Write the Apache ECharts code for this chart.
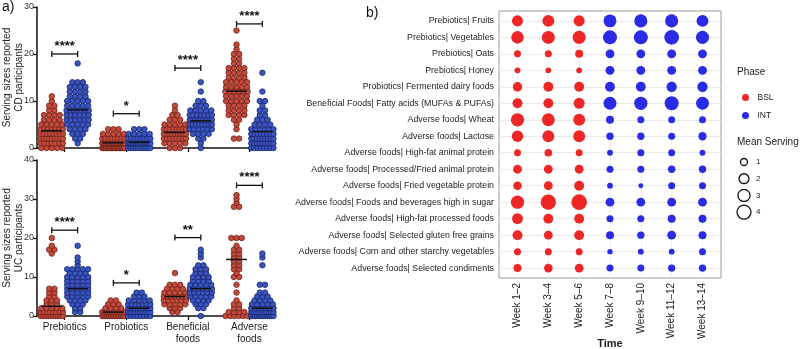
<!doctype html>
<html lang="en">
<head>
  <meta charset="UTF-8">
  <title>Serving sizes</title>
  <style>
    html, body { margin: 0; padding: 0; background: #fff; }
    #chart { width: 800px; height: 349px; }
  </style>
  <script src="https://cdn.jsdelivr.net/npm/echarts@6/dist/echarts.min.js"></script>
</head>
<body>
  <div id="chart"></div>
  <script>
    // ---- panel a: serving sizes per participant, [value, how many participants]
    var groups = ['Prebiotics', 'Probiotics', 'Beneficial\nfoods', 'Adverse\nfoods'];

    var cdPreBsl = [[0,5],[1,7],[2,9],[3,8],[4,7],[5,5],[6,4],[7,4],[8,2],[9,2],[10,1],[11,1]];
    var cdPreInt = [[1,1],[2,2],[3,3],[4,4],[5,5],[6,6],[7,6],[8,7],[9,5],[10,5],[11,4],[12,4],[13,4],[14,3],[18,1]];
    var cdProBsl = [[0,18],[1,16],[2,8],[3,5],[4,3]];
    var cdProInt = [[0,10],[1,14],[2,8],[3,5],[4,3]];
    var cdBenBsl = [[0,3],[1,5],[2,8],[3,9],[4,8],[5,5],[6,3],[7,2],[8,1],[9,1]];
    var cdBenInt = [[0,1],[1,1],[2,2],[3,4],[4,6],[5,8],[6,9],[7,7],[8,5],[9,3],[10,2],[12,1],[14,1]];
    var cdAdvBsl = [[2,2],[4,1],[5,1],[6,2],[7,4],[8,4],[9,4],[10,5],[11,5],[12,6],[13,5],[14,5],[15,4],[16,4],[17,4],[18,2],[19,2],[20,2],[21,1],[22,1],[25,1]];
    var cdAdvInt = [[0,8],[1,9],[2,9],[3,8],[4,6],[5,4],[6,3],[7,2],[8,2],[9,1],[10,2],[12,1],[16,1]];

    var ucPreBsl = [[0,10],[1,8],[2,5],[3,3],[4,3],[5,2],[6,2],[7,2],[16,1],[17,2],[18,1],[20,1]];
    var ucPreInt = [[1,2],[2,2],[3,3],[4,4],[5,5],[6,5],[7,5],[8,5],[9,5],[10,5],[11,4],[12,5],[13,1],[14,1],[15,1],[18,1]];
    var ucProBsl = [[0,14],[1,10],[2,4],[3,3],[4,2]];
    var ucProInt = [[0,8],[1,10],[2,10],[3,7],[4,5],[5,3],[6,2]];
    var ucBenBsl = [[1,2],[2,3],[3,5],[4,6],[5,7],[6,5],[7,4],[8,3],[11,1]];
    var ucBenInt = [[0,1],[2,2],[3,3],[4,4],[5,5],[6,6],[7,6],[8,5],[9,4],[10,4],[11,3],[12,3],[13,2],[15,1],[16,1],[17,1]];
    var ucAdvBsl = [[0,6],[1,4],[2,2],[3,2],[4,1],[6,1],[8,1],[10,2],[11,1],[12,2],[13,2],[14,2],[15,2],[16,2],[17,2],[18,1],[20,3],[28,2],[29,1],[30,1],[31,1]];
    var ucAdvInt = [[0,12],[1,10],[2,7],[3,5],[4,4],[5,3],[6,2],[8,2],[13,1],[15,1],[16,1]];

    // centre line of each column (bsl, int per group)
    var cdCenter = [3.7, 8.1, 1.1, 1.2, 3.3, 5.8, 12.1, 3.5];
    var ucCenter = [2.5, 7, 1, 2, 5, 7, 14.5, 2];
    // significance brackets
    var cdSigY = [20, 7.3, 17, 26.4];
    var cdSigTxt = ['****', '*', '****', '****'];
    var ucSigY = [22, 8.5, 20.1, 33.5];
    var ucSigTxt = ['****', '*', '**', '****'];

    // ---- panel b: mean serving per food and fortnight
    var weeks = ['Week 1\u20132', 'Week 3\u20134', 'Week 5\u20136', 'Week 7\u20138', 'Week 9\u201310', 'Week 11\u201312', 'Week 13\u201314'];
    var foods = [
      'Prebiotics| Fruits', 'Prebiotics| Vegetables', 'Prebiotics| Oats', 'Prebiotics| Honey',
      'Probiotics| Fermented dairy foods', 'Beneficial Foods| Fatty acids (MUFAs & PUFAs)',
      'Adverse foods| Wheat', 'Adverse foods| Lactose', 'Adverse foods| High-fat animal protein',
      'Adverse foods| Processed/Fried animal protein', 'Adverse foods| Fried vegetable protein',
      'Adverse foods| Foods and beverages high in sugar', 'Adverse foods| High-fat processed foods',
      'Adverse foods| Selected gluten free grains', 'Adverse foods| Corn and other starchy vegetables',
      'Adverse foods| Selected condiments'
    ];
    var bslW12 = [2.5, 3.2, 1.0, 0.7, 1.8, 2.0, 3.6, 2.7, 1.0, 1.6, 1.5, 3.6, 2.4, 2.0, 1.0, 1.3];
    var bslW34 = [2.9, 3.4, 1.0, 0.7, 2.0, 2.0, 3.4, 2.9, 1.2, 1.6, 1.6, 4.8, 2.0, 1.6, 1.0, 1.5];
    var bslW56 = [2.5, 3.5, 1.3, 0.7, 2.0, 2.5, 2.9, 2.9, 1.0, 1.6, 2.0, 5.0, 2.0, 2.0, 1.0, 1.6];
    var intW78 = [3.4, 4.0, 1.6, 1.6, 2.0, 3.4, 1.3, 1.1, 0.7, 1.0, 0.7, 1.6, 1.0, 1.3, 0.6, 1.0];
    var intW910 = [3.5, 4.0, 1.6, 1.6, 2.0, 3.6, 1.0, 1.1, 1.0, 1.0, 0.5, 1.6, 1.0, 1.1, 0.7, 1.0];
    var intW1112 = [3.5, 4.4, 1.6, 1.6, 2.2, 4.0, 1.0, 1.0, 1.0, 1.1, 1.0, 1.6, 1.3, 1.6, 0.7, 1.1];
    var intW1314 = [2.9, 3.5, 1.6, 1.6, 2.2, 3.4, 1.0, 1.4, 0.7, 1.1, 1.0, 1.6, 1.3, 1.3, 1.0, 1.1];
    var sizeBreaks = [1, 2, 3, 4];

    var FONT = 'Liberation Sans, Arial, sans-serif';
    var RED = '#ee2626', BLUE = '#2b2be6';
    var dotRed = '#c24b3c', dotRedEdge = '#6e1f16';
    var dotBlue = '#3a55c0', dotBlueEdge = '#17256a';

    function bubbleSize(v) { return 7 * Math.sqrt(v); }

    // beeswarm: same values side by side, squeezed when there are many
    function swarm(counts, xc) {
      var pts = [];
      counts.forEach(function (c) {
        var n = c[1];
        var step = n > 1 ? Math.min(0.085, 0.36 / (n - 1)) : 0;
        for (var i = 0; i < n; i++) pts.push([xc + (i - (n - 1) / 2) * step, c[0]]);
      });
      return pts;
    }

    var OFF = 0.21;
    function dotSeries(cols, gi) {
      var out = [];
      cols.forEach(function (col, k) {
        var g = Math.floor(k / 2) + 1;
        var bsl = k % 2 === 0;
        out.push({
          type: 'scatter', xAxisIndex: gi, yAxisIndex: gi, clip: false,
          symbolSize: 5.5,
          itemStyle: { color: bsl ? dotRed : dotBlue, borderColor: bsl ? dotRedEdge : dotBlueEdge, borderWidth: 0.8, opacity: 1 },
          data: swarm(col, bsl ? g - OFF : g + OFF),
          silent: true
        });
      });
      return out;
    }

    function centerSeries(center, gi) {
      return {
        type: 'custom', xAxisIndex: gi, yAxisIndex: gi, clip: false, silent: true, z: 5,
        data: center.map(function (v, k) {
          var g = Math.floor(k / 2) + 1;
          return [k % 2 === 0 ? g - OFF : g + OFF, v];
        }),
        renderItem: function (params, api) {
          var a = api.coord([api.value(0) - 0.17, api.value(1)]);
          var b = api.coord([api.value(0) + 0.17, api.value(1)]);
          return { type: 'line', shape: { x1: a[0], y1: a[1], x2: b[0], y2: b[1] }, style: { stroke: '#111', lineWidth: 1.5 } };
        }
      };
    }

    function sigSeries(ys, txts, gi) {
      return {
        type: 'custom', xAxisIndex: gi, yAxisIndex: gi, clip: false, silent: true, z: 5,
        data: ys.map(function (y, i) { return [i + 1 - OFF, i + 1 + OFF, y, i]; }),
        renderItem: function (params, api) {
          var a = api.coord([api.value(0), api.value(2)]);
          var b = api.coord([api.value(1), api.value(2)]);
          var st = { stroke: '#111', lineWidth: 1.3 };
          return {
            type: 'group', children: [
              { type: 'line', shape: { x1: a[0], y1: a[1], x2: b[0], y2: b[1] }, style: st },
              { type: 'line', shape: { x1: a[0], y1: a[1] - 3, x2: a[0], y2: a[1] + 3 }, style: st },
              { type: 'line', shape: { x1: b[0], y1: b[1] - 3, x2: b[0], y2: b[1] + 3 }, style: st },
              {
                type: 'text', style: {
                  text: txts[api.value(3)], x: (a[0] + b[0]) / 2, y: a[1] - 1,
                  align: 'center', verticalAlign: 'bottom', font: 'bold 13px ' + FONT, fill: '#111'
                }
              }
            ]
          };
        }
      };
    }

    function groupXAxis(gi, showLabels) {
      return {
        type: 'value', gridIndex: gi, min: 0.55, max: 4.35,
        axisLine: { show: true, onZero: false, lineStyle: { color: '#111', width: 1.5 } },
        axisTick: { show: true, length: 4, customValues: [1, 2, 3, 4], lineStyle: { color: '#111', width: 1.3 } },
        axisLabel: {
          show: showLabels, customValues: [1, 2, 3, 4], margin: 5,
          fontSize: 10, fontFamily: FONT, color: '#222', lineHeight: 12,
          formatter: function (v) { return groups[v - 1]; }
        },
        splitLine: { show: false }
      };
    }

    function groupYAxis(gi, max, name) {
      return {
        type: 'value', gridIndex: gi, min: 0, max: max, interval: 10,
        name: name, nameLocation: 'middle', nameGap: 12, nameMoveOverlap: false,
        nameTextStyle: { fontSize: 10, fontFamily: FONT, color: '#222', lineHeight: 12 },
        axisLine: { show: true, lineStyle: { color: '#111', width: 1.5 } },
        axisTick: { show: true, length: 4, lineStyle: { color: '#111', width: 1.3 } },
        axisLabel: { fontSize: 9, fontFamily: FONT, color: '#333', margin: 3 },
        splitLine: { show: false }
      };
    }

    function weekSeries(name, color, cols, startIdx) {
      var data = [];
      cols.forEach(function (col, w) {
        col.forEach(function (v, r) { data.push([startIdx + w, r, v]); });
      });
      return {
        name: name, type: 'scatter', xAxisIndex: 2, yAxisIndex: 2, symbol: 'circle',
        symbolSize: function (val) { return bubbleSize(val[2]); },
        itemStyle: { color: color, opacity: 1 }, data: data, silent: true
      };
    }

    var chart = echarts.init(document.getElementById('chart'), null, { renderer: 'canvas' });

    var series = []
      .concat(dotSeries([cdPreBsl, cdPreInt, cdProBsl, cdProInt, cdBenBsl, cdBenInt, cdAdvBsl, cdAdvInt], 0))
      .concat([centerSeries(cdCenter, 0), sigSeries(cdSigY, cdSigTxt, 0)])
      .concat(dotSeries([ucPreBsl, ucPreInt, ucProBsl, ucProInt, ucBenBsl, ucBenInt, ucAdvBsl, ucAdvInt], 1))
      .concat([centerSeries(ucCenter, 1), sigSeries(ucSigY, ucSigTxt, 1)])
      .concat([
        weekSeries('BSL', RED, [bslW12, bslW34, bslW56], 0),
        weekSeries('INT', BLUE, [intW78, intW910, intW1112, intW1314], 3)
      ]);

    var sizeLegend = [{ type: 'text', left: 737, top: 137, style: { text: 'Mean Serving', font: '10px ' + FONT, fill: '#222' } }];
    sizeBreaks.forEach(function (v, i) {
      var cy = 162 + i * 16.7;
      sizeLegend.push({ type: 'circle', shape: { cx: 744, cy: cy, r: bubbleSize(v) / 2 }, style: { fill: 'none', stroke: '#111', lineWidth: 1.3 } });
      sizeLegend.push({ type: 'text', x: 756, y: cy, style: { text: String(v), font: '8px ' + FONT, fill: '#222', verticalAlign: 'middle' } });
    });

    var option = {
      animation: false,
      backgroundColor: '#fff',
      textStyle: { fontFamily: FONT },
      grid: [
        { left: 37, top: 7, right: 529, bottom: 201, outerBoundsMode: 'none' },
        { left: 37, top: 160, right: 529, bottom: 33, outerBoundsMode: 'none' },
        { left: 499, top: 11, right: 79, bottom: 71, outerBoundsMode: 'none', show: true, borderColor: '#9a9a9a', borderWidth: 1, backgroundColor: 'transparent' }
      ],
      legend: {
        data: ['BSL', 'INT'], orient: 'vertical', left: 737, top: 88,
        icon: 'circle', itemWidth: 14, itemHeight: 7, itemGap: 9,
        textStyle: { fontSize: 8.5, color: '#222', fontFamily: FONT }, selectedMode: false
      },
      xAxis: [
        groupXAxis(0, false),
        groupXAxis(1, true),
        {
          type: 'value', gridIndex: 2, min: -0.6, max: 6.6,
          name: 'Time', nameLocation: 'middle', nameGap: 60, nameMoveOverlap: false,
          nameTextStyle: { fontSize: 11, fontWeight: 'bold', color: '#222', fontFamily: FONT },
          axisLine: { show: false },
          axisTick: { show: true, length: 3, customValues: [0, 1, 2, 3, 4, 5, 6], lineStyle: { color: '#333' } },
          axisLabel: {
            customValues: [0, 1, 2, 3, 4, 5, 6], rotate: 90, margin: 5,
            fontSize: 10, color: '#222', fontFamily: FONT,
            formatter: function (v) { return weeks[v]; }
          },
          splitLine: { show: true, lineStyle: { color: '#efefef', width: 1 } }
        }
      ],
      yAxis: [
        groupYAxis(0, 30, 'Serving sizes reported\nCD participants'),
        groupYAxis(1, 40, 'Serving sizes reported\nUC participants'),
        {
          type: 'value', gridIndex: 2, min: -0.6, max: 15.6, inverse: true,
          axisLine: { show: false },
          axisTick: { show: true, length: 3, customValues: foods.map(function (f, i) { return i; }), lineStyle: { color: '#333' } },
          axisLabel: {
            customValues: foods.map(function (f, i) { return i; }), margin: 5,
            fontSize: 8.8, color: '#222', fontFamily: FONT,
            formatter: function (v) { return foods[v]; }
          },
          splitLine: { show: true, lineStyle: { color: '#ebebeb', width: 1 } }
        }
      ],
      graphic: [
        { type: 'text', left: 2, top: 0, style: { text: 'a)', font: '14px ' + FONT, fill: '#111' } },
        { type: 'text', left: 366, top: 6, style: { text: 'b)', font: '14px ' + FONT, fill: '#111' } },
        { type: 'text', left: 737, top: 67, style: { text: 'Phase', font: '10px ' + FONT, fill: '#222' } }
      ].concat(sizeLegend),
      series: series
    };

    chart.setOption(option);
  </script>
</body>
</html>
